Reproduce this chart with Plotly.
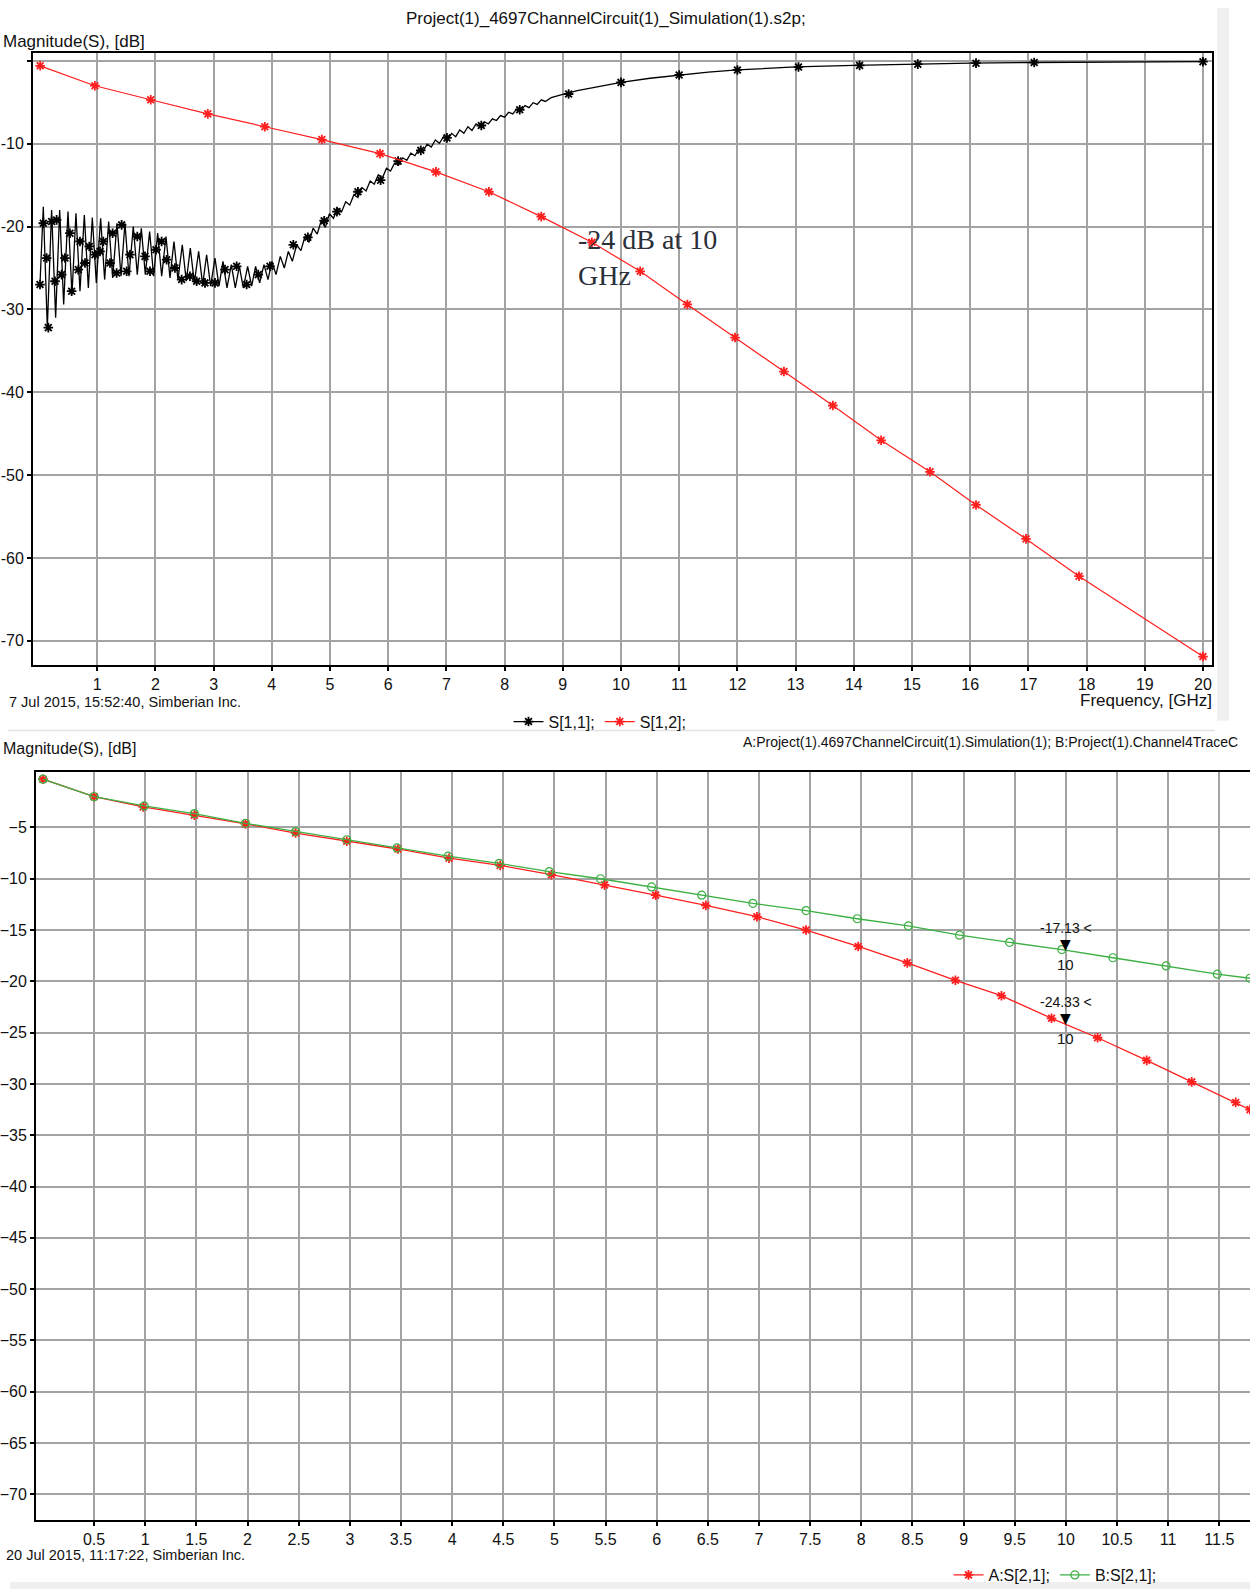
import plotly.graph_objects as go

W, H = 1250, 1592


def fx(px):
    return px / W


def fy(py):
    return 1 - py / H


# ---------------- top chart data (GHz, dB) ----------------
s11_low_freq = [0.017, 0.074, 0.143, 0.217, 0.286, 0.355, 0.424, 0.498, 0.567, 0.635, 0.704,
                0.779, 0.848, 0.916, 0.985, 1.059, 1.128, 1.197, 1.266, 1.340, 1.409, 1.477,
                1.546, 1.620, 1.689, 1.758, 1.827, 1.901, 1.970, 2.039, 2.108, 2.182, 2.251,
                2.319, 2.388, 2.462, 2.531, 2.600, 2.669, 2.743, 2.812, 2.880, 2.949, 3.024,
                3.093, 3.161, 3.230, 3.304, 3.373, 3.442, 3.511, 3.585, 3.654, 3.722, 3.791,
                3.866, 3.935, 4.003, 4.072, 4.146, 4.215, 4.284, 4.353, 4.427]
s11_low_db = [-27.0, -17.6, -32.2, -18.0, -31.0, -18.0, -29.4, -18.2, -28.2, -18.4, -27.8,
              -18.6, -27.4, -18.9, -26.8, -19.0, -26.4, -19.4, -26.2, -19.6, -26.0, -19.6,
              -26.0, -20.0, -25.8, -20.2, -25.8, -20.6, -26.0, -20.8, -26.0, -21.2, -26.2,
              -21.8, -26.4, -22.2, -26.6, -22.6, -26.8, -23.0, -27.0, -23.4, -27.2, -23.8,
              -27.2, -24.2, -27.4, -24.6, -27.4, -24.8, -27.4, -24.8, -27.2, -24.8, -26.8,
              -24.6, -26.4, -24.2, -25.8, -23.6, -25.0, -23.0, -24.2, -22.2]
s11_mid_freq = [4.50, 4.57, 4.64, 4.71, 4.78, 4.85, 4.92, 4.99, 5.06, 5.13, 5.20, 5.27, 5.34,
                5.41, 5.48, 5.55, 5.62, 5.69, 5.76, 5.83, 5.90, 5.97, 6.04, 6.11, 6.18, 6.25,
                6.32, 6.39, 6.46, 6.53, 6.60, 6.67, 6.74, 6.81, 6.88, 6.95, 7.02, 7.09, 7.16,
                7.23, 7.30, 7.37, 7.44, 7.51, 7.58, 7.65, 7.72, 7.79, 7.86, 7.93, 8.00, 8.07,
                8.14, 8.21, 8.28, 8.35, 8.42, 8.49, 8.56, 8.63, 8.70]
s11_mid_db = [-22.9, -21.2, -21.9, -20.2, -20.9, -19.3, -20.1, -18.45, -19.0, -17.8, -18.2,
              -17.0, -17.4, -16.15, -16.5, -15.3, -15.7, -14.5, -14.9, -13.75, -14.15, -12.95,
              -13.3, -12.35, -12.6, -11.7, -12.0, -11.15, -11.45, -10.6, -10.9, -10.05, -10.4,
              -9.55, -9.95, -9.15, -9.55, -8.75, -9.15, -8.35, -8.75, -7.95, -8.4, -7.6,
              -7.95, -7.35, -7.6, -7.0, -7.2, -6.6, -6.8, -6.2, -6.4, -5.8, -6.0, -5.4,
              -5.65, -5.05, -5.25, -4.7, -4.9]
s11_high_freq = [8.8, 9.0, 9.25, 9.5, 9.75, 10, 10.5, 11, 11.5, 12, 12.5, 13, 14, 15, 16, 17,
                 18, 19, 20]
s11_high_db = [-4.45, -4.05, -3.6, -3.25, -2.9, -2.6, -2.1, -1.7, -1.35, -1.1, -0.9, -0.72,
               -0.55, -0.4, -0.28, -0.2, -0.15, -0.12, -0.1]

s11_mark_freq = [0.017, 0.074, 0.131, 0.160, 0.217, 0.275, 0.303, 0.389, 0.446, 0.532, 0.561,
                 0.675, 0.704, 0.790, 0.864, 0.962, 1.048, 1.105, 1.220, 1.265, 1.334, 1.420,
                 1.506, 1.563, 1.689, 1.821, 1.907, 2.010, 2.107, 2.193, 2.336, 2.451, 2.594,
                 2.709, 2.852, 3.024, 3.196, 3.396, 3.568, 3.768, 3.969, 4.37, 4.62, 4.9,
                 5.12, 5.48, 5.87, 6.17, 6.56, 7.01, 7.6, 8.26, 9.1, 10.0, 11.0, 12.0, 13.05,
                 14.1, 15.1, 16.1, 17.1, 20.0]
s11_mark_db = [-27.0, -19.6, -23.8, -32.2, -19.4, -26.6, -19.2, -25.8, -23.8, -20.8, -27.8,
               -25.2, -21.8, -24.4, -22.4, -23.4, -23.0, -21.8, -24.4, -20.8, -25.6, -19.8,
               -25.4, -23.4, -21.2, -23.6, -25.4, -22.8, -21.8, -24.0, -25.0, -26.4, -26.0,
               -26.6, -26.8, -26.8, -25.2, -24.8, -27.0, -25.8, -24.8, -22.2, -21.3, -19.3,
               -18.2, -15.8, -14.4, -12.1, -10.8, -9.3, -7.8, -5.9, -4.0, -2.6, -1.7, -1.1,
               -0.75, -0.55, -0.4, -0.28, -0.2, -0.1]

s12_freq = [0.02, 0.96, 1.92, 2.9, 3.88, 4.86, 5.86, 6.82, 7.73, 8.63, 9.5, 10.33, 11.14,
            11.96, 12.8, 13.64, 14.47, 15.31, 16.1, 16.96, 17.87, 20.0]
s12_db = [-0.6, -3.0, -4.7, -6.4, -7.95, -9.5, -11.2, -13.4, -15.8, -18.8, -21.9, -25.4,
          -29.4, -33.4, -37.5, -41.6, -45.8, -49.6, -53.6, -57.7, -62.2, -71.9]

# ---------------- bottom chart data (GHz, dB) ----------------
a21_freq = [0.0, 0.5, 0.98, 1.48, 1.98, 2.47, 2.97, 3.47, 3.97, 4.47, 4.97, 5.49, 5.99, 6.48,
            6.98, 7.46, 7.97, 8.45, 8.92, 9.37, 9.86, 10.31, 10.79, 11.23, 11.66, 11.80]
a21_db = [-0.3, -2.0, -3.0, -3.8, -4.65, -5.55, -6.35, -7.1, -8.0, -8.7, -9.6, -10.6, -11.6,
          -12.6, -13.7, -15.0, -16.6, -18.2, -19.9, -21.4, -23.6, -25.5, -27.7, -29.8,
          -31.8, -32.5]
b21_freq = [0.0, 0.5, 0.99, 1.48, 1.98, 2.47, 2.97, 3.46, 3.96, 4.46, 4.95, 5.45, 5.95, 6.44,
            6.94, 7.46, 7.96, 8.46, 8.96, 9.45, 9.96, 10.46, 10.98, 11.48, 11.80]
b21_db = [-0.3, -2.0, -2.9, -3.65, -4.6, -5.4, -6.2, -7.0, -7.8, -8.5, -9.3, -10.0, -10.8,
          -11.6, -12.4, -13.1, -13.9, -14.6, -15.5, -16.2, -16.9, -17.7, -18.5, -19.3, -19.7]
marker_freq = [10, 10]
marker_db = [-17.13, -24.33]

x_top_ticks = list(range(1, 21))
y_top_ticks = [0, -10, -20, -30, -40, -50, -60, -70]
y_top_text = ["", "-10", "-20", "-30", "-40", "-50", "-60", "-70"]
x_bot_ticks = [0.5, 1, 1.5, 2, 2.5, 3, 3.5, 4, 4.5, 5, 5.5, 6, 6.5, 7, 7.5, 8, 8.5, 9, 9.5,
               10, 10.5, 11, 11.5]
x_bot_text = ["0.5", "1", "1.5", "2", "2.5", "3", "3.5", "4", "4.5", "5", "5.5", "6", "6.5",
              "7", "7.5", "8", "8.5", "9", "9.5", "10", "10.5", "11", "11.5"]
y_bot_ticks = [-5, -10, -15, -20, -25, -30, -35, -40, -45, -50, -55, -60, -65, -70]

RED = "#ff1f1f"
GREEN = "#3cb043"
BLACK = "#000000"
FONT = "Liberation Sans Narrow, Arial Narrow, Liberation Sans, Arial, sans-serif"
GRID = "#a3a3a3"

s11_freq = s11_low_freq + s11_mid_freq + s11_high_freq
s11_db = s11_low_db + s11_mid_db + s11_high_db


def star(color):
    return dict(symbol="asterisk-open", size=8, color=color, line=dict(color=color, width=1.8))


fig = go.Figure()

# top chart
fig.add_trace(go.Scatter(x=s11_freq, y=s11_db, mode="lines", line=dict(color=BLACK, width=1.3),
                         showlegend=False, xaxis="x", yaxis="y", hoverinfo="skip"))
fig.add_trace(go.Scatter(x=s11_mark_freq, y=s11_mark_db, mode="markers", marker=star(BLACK),
                         showlegend=False, xaxis="x", yaxis="y"))
fig.add_trace(go.Scatter(x=s12_freq, y=s12_db, mode="lines+markers",
                         line=dict(color=RED, width=1.2), marker=star(RED),
                         showlegend=False, xaxis="x", yaxis="y"))
fig.add_trace(go.Scatter(x=[None], y=[None], mode="lines+markers", name="S[1,1];",
                         line=dict(color=BLACK, width=1.3), marker=star(BLACK),
                         legend="legend", xaxis="x", yaxis="y"))
fig.add_trace(go.Scatter(x=[None], y=[None], mode="lines+markers", name="S[1,2];",
                         line=dict(color=RED, width=1.3), marker=star(RED),
                         legend="legend", xaxis="x", yaxis="y"))

# bottom chart
fig.add_trace(go.Scatter(x=a21_freq, y=a21_db, mode="lines+markers", name="A:S[2,1];",
                         line=dict(color=RED, width=1.3), marker=star(RED),
                         legend="legend2", xaxis="x2", yaxis="y2"))
fig.add_trace(go.Scatter(x=b21_freq, y=b21_db, mode="lines+markers", name="B:S[2,1];",
                         line=dict(color=GREEN, width=1.3),
                         marker=dict(symbol="circle-open", size=8, color=GREEN,
                                     line=dict(color=GREEN, width=1.2)),
                         legend="legend2", xaxis="x2", yaxis="y2"))

axis_common = dict(showgrid=True, gridcolor=GRID, gridwidth=1.5, showline=True,
                   linecolor=BLACK, linewidth=2, ticks="outside", ticklen=4, tickcolor=BLACK,
                   tickwidth=1.5, zeroline=False, tickfont=dict(family=FONT, size=16, color="#111"))

fig.update_layout(
    width=W, height=H, margin=dict(l=0, r=0, t=0, b=0),
    paper_bgcolor="white", plot_bgcolor="white",
    font=dict(family=FONT, size=16, color="#111"),
    xaxis=dict(domain=[fx(33), fx(1212)], range=[-0.103, 20.155], tickvals=x_top_ticks,
               mirror=True, anchor="y", **axis_common),
    yaxis=dict(domain=[fy(666), fy(53)], range=[-72.89, 0.96], tickvals=y_top_ticks,
               ticktext=y_top_text, mirror=True, anchor="x", **axis_common),
    xaxis2=dict(domain=[fx(36), 1.0], range=[-0.068, 11.80], tickvals=x_bot_ticks,
                ticktext=x_bot_text, mirror=True, anchor="y2", **axis_common),
    yaxis2=dict(domain=[fy(1523), fy(773)], range=[-72.51, 0.447], tickvals=y_bot_ticks,
                mirror=False, anchor="x2", **axis_common),
    legend=dict(x=fx(600), y=fy(723), xanchor="center", yanchor="middle", orientation="h",
                font=dict(family=FONT, size=16, color="#111"), bgcolor="rgba(0,0,0,0)",
                itemwidth=30),
    legend2=dict(x=fx(1055), y=fy(1578), xanchor="center", yanchor="middle", orientation="h",
                 font=dict(family=FONT, size=16, color="#111"), bgcolor="rgba(0,0,0,0)",
                 itemwidth=30),
    showlegend=True,
)

ann = []


def txt(text, x, y, xanchor="left", size=16, **kw):
    ann.append(dict(text=text, x=fx(x), y=fy(y), xref="paper", yref="paper", xanchor=xanchor,
                    yanchor="middle", showarrow=False,
                    font=dict(family=FONT, size=size, color="#111"), **kw))


txt("Project(1)_4697ChannelCircuit(1)_Simulation(1).s2p;", 606, 19, "center", size=17)
txt("Magnitude(S), [dB]", 1, 42, size=17)
txt("7 Jul 2015, 15:52:40, Simberian Inc.", 7, 703, size=14.5)
txt("Frequency, [GHz]", 1214, 702, "right", size=17)
txt("A:Project(1).4697ChannelCircuit(1).Simulation(1); B:Project(1).Channel4TraceC", 741, 743,
    size=14)
txt("Magnitude(S), [dB]", 1, 750, size=16)
txt("20 Jul 2015, 11:17:22, Simberian Inc.", 4, 1558, size=14.5)

ann.append(dict(text="-24 dB at 10<br>GHz", x=9.22, y=-23.7, xref="x", yref="y",
                xanchor="left", yanchor="middle", align="left", showarrow=False,
                font=dict(family="Liberation Serif, Times New Roman, serif", size=28,
                          color="#2b2f3a")))

for mf, mv in zip(marker_freq, marker_db):
    ann.append(dict(text="▼", x=mf, y=mv, xref="x2", yref="y2", showarrow=False,
                    yanchor="middle", xanchor="center", yshift=8,
                    font=dict(family="DejaVu Sans", size=14, color=BLACK)))
    ann.append(dict(text=f"{mv:.2f} <", x=mf, y=mv, xref="x2", yref="y2", showarrow=False,
                    yanchor="middle", xanchor="center", yshift=24,
                    font=dict(family=FONT, size=14, color="#111")))
    ann.append(dict(text=f"{mf:g}", x=mf, y=mv, xref="x2", yref="y2", showarrow=False,
                    yanchor="middle", xanchor="center", yshift=-13,
                    font=dict(family=FONT, size=15, color="#111")))

fig.update_layout(annotations=ann)

shapes = [
    dict(type="rect", xref="paper", yref="paper", x0=fx(1217), x1=fx(1229), y0=fy(722),
         y1=fy(8), fillcolor="#f0f0f0", line=dict(width=0), layer="below"),
    dict(type="line", xref="paper", yref="paper", x0=fx(8), x1=fx(1215), y0=fy(732),
         y1=fy(732), line=dict(color="#e2e2e2", width=1.5)),
    dict(type="rect", xref="paper", yref="paper", x0=fx(10), x1=1.0, y0=0, y1=fy(1585),
         fillcolor="#efefef", line=dict(width=0), layer="below"),
]
fig.update_layout(shapes=shapes)

fig.write_html("out.html")
